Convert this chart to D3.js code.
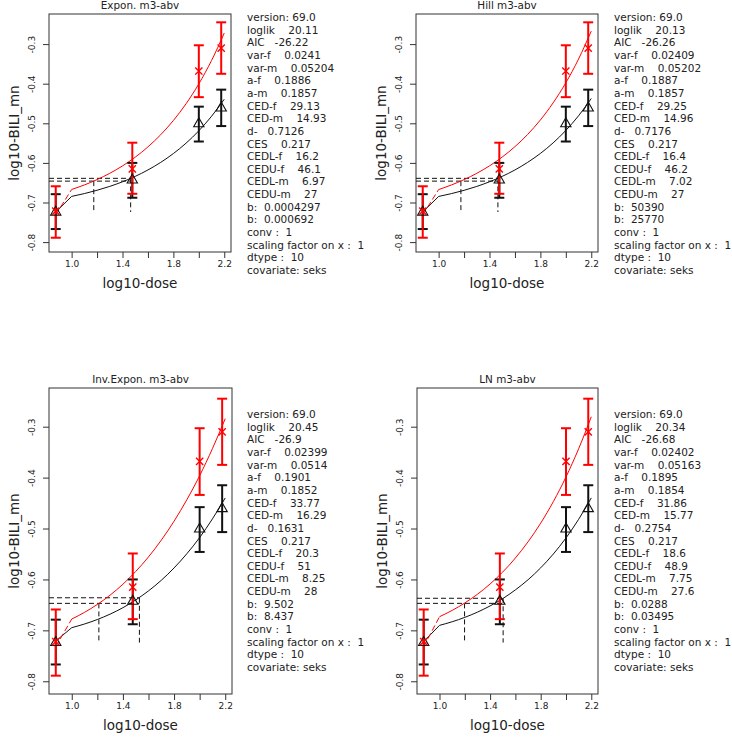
<!DOCTYPE html>
<html><head><meta charset="utf-8">
<script src="https://cdn.jsdelivr.net/npm/d3@7"></script>
<style>
body{margin:0;background:#fff}
svg{display:block}
text{font-family:"DejaVu Sans",sans-serif;fill:#222}
</style>
</head><body>
<svg id="c" width="732" height="737"></svg>
<script>
// ---------- data ----------
const doseLog = [0.875, 1.477, 2.0, 2.176];
const meanF = [-0.723, -0.642, -0.500, -0.460];
const loF   = [-0.767, -0.688, -0.546, -0.507];
const hiF   = [-0.679, -0.600, -0.458, -0.415];
const meanM = [-0.722, -0.615, -0.368, -0.310];
const loM   = [-0.789, -0.678, -0.434, -0.375];
const hiM   = [-0.659, -0.549, -0.303, -0.245];

const curveX = [0.875, 1.0, 1.1, 1.2, 1.3, 1.4, 1.5, 1.6, 1.7, 1.8, 1.9, 2.0, 2.1, 2.2];
const exponF = [-0.724, -0.6846, -0.6775, -0.6691, -0.6593, -0.6477, -0.6340, -0.6178, -0.5988, -0.5764, -0.5501, -0.5190, -0.4823, -0.4392];
const exponM = [-0.731, -0.6671, -0.6557, -0.6422, -0.6263, -0.6076, -0.5856, -0.5596, -0.5290, -0.4930, -0.4505, -0.4005, -0.3415, -0.2721];
const hillF  = [-0.724, -0.6847, -0.6776, -0.6693, -0.6594, -0.6477, -0.6340, -0.6178, -0.5986, -0.5761, -0.5495, -0.5181, -0.4811, -0.4374];
const hillM  = [-0.731, -0.6673, -0.6558, -0.6423, -0.6263, -0.6075, -0.5852, -0.5590, -0.5281, -0.4916, -0.4485, -0.3977, -0.3378, -0.2672];
const invF   = [-0.721, -0.6947, -0.6875, -0.6787, -0.6681, -0.6555, -0.6403, -0.6225, -0.6017, -0.5774, -0.5495, -0.5177, -0.4811, -0.4400];
const invM   = [-0.732, -0.6777, -0.6646, -0.6491, -0.6308, -0.6094, -0.5844, -0.5558, -0.5229, -0.4856, -0.4434, -0.3962, -0.3431, -0.2843];
const lnF    = [-0.722, -0.6902, -0.6831, -0.6745, -0.6642, -0.6520, -0.6376, -0.6205, -0.6006, -0.5772, -0.5500, -0.5185, -0.4819, -0.4398];
const lnM    = [-0.732, -0.6732, -0.6608, -0.6462, -0.6291, -0.6089, -0.5854, -0.5579, -0.5261, -0.4894, -0.4471, -0.3987, -0.3433, -0.2805];

// CED reference lines: [level f, level m, log10 CED-f, log10 CED-m, floor]
const cedExpon = [-0.639, -0.646, 1.464, 1.174, -0.724];
const cedHill  = [-0.639, -0.646, 1.466, 1.175, -0.724];
const cedInv   = [-0.636, -0.647, 1.529, 1.212, -0.724];
const cedLN    = [-0.637, -0.647, 1.503, 1.198, -0.724];

const xTicks = [1.0, 1.2, 1.4, 1.6, 1.8, 2.0, 2.2];
const xTickLabels = ["1.0", "", "1.4", "", "1.8", "", "2.2"];
const yTicks = [-0.8, -0.7, -0.6, -0.5, -0.4, -0.3];
const yTickLabels = ["-0.8", "-0.7", "-0.6", "-0.5", "-0.4", "-0.3"];
const xDomain = [0.822, 2.253];
const yDomain = [-0.825, -0.224];

const titles = ["Expon. m3-abv", "Hill m3-abv", "Inv.Expon. m3-abv", "LN m3-abv"];
const xLabel = "log10-dose";
const yLabel = "log10-BILI_mn";

const infoExpon = ["version: 69.0","loglik    20.11","AIC   -26.22","var-f    0.0241","var-m    0.05204","a-f    0.1886","a-m    0.1857","CED-f    29.13","CED-m    14.93","d-   0.7126","CES    0.217","CEDL-f    16.2","CEDU-f    46.1","CEDL-m    6.97","CEDU-m    27","b:  0.0004297","b:  0.000692","conv :  1","scaling factor on x :  1","dtype :  10","covariate: seks"];
const infoHill  = ["version: 69.0","loglik    20.13","AIC   -26.26","var-f    0.02409","var-m    0.05202","a-f    0.1887","a-m    0.1857","CED-f    29.25","CED-m    14.96","d-   0.7176","CES    0.217","CEDL-f    16.4","CEDU-f    46.2","CEDL-m    7.02","CEDU-m    27","b:  50390","b:  25770","conv :  1","scaling factor on x :  1","dtype :  10","covariate: seks"];
const infoInv   = ["version: 69.0","loglik    20.45","AIC   -26.9","var-f    0.02399","var-m    0.0514","a-f    0.1901","a-m    0.1852","CED-f    33.77","CED-m    16.29","d-   0.1631","CES    0.217","CEDL-f    20.3","CEDU-f    51","CEDL-m    8.25","CEDU-m    28","b:  9.502","b:  8.437","conv :  1","scaling factor on x :  1","dtype :  10","covariate: seks"];
const infoLN    = ["version: 69.0","loglik    20.34","AIC   -26.68","var-f    0.02402","var-m    0.05163","a-f    0.1895","a-m    0.1854","CED-f    31.86","CED-m    15.77","d-   0.2754","CES    0.217","CEDL-f    18.6","CEDU-f    48.9","CEDL-m    7.75","CEDU-m    27.6","b:  0.0288","b:  0.03495","conv :  1","scaling factor on x :  1","dtype :  10","covariate: seks"];

// ---------- layout ----------
const panels = [
  {title: titles[0], info: infoExpon, cf: exponF, cm: exponM, ced: cedExpon, L: 49,  R: 231, T: 14,  B: 252, tx: 247, ty: 21},
  {title: titles[1], info: infoHill,  cf: hillF,  cm: hillM,  ced: cedHill,  L: 416, R: 598, T: 14,  B: 252, tx: 614, ty: 21},
  {title: titles[2], info: infoInv,   cf: invF,   cm: invM,   ced: cedInv,   L: 49,  R: 232, T: 388, B: 694, tx: 247, ty: 418},
  {title: titles[3], info: infoLN,    cf: lnF,    cm: lnM,    ced: cedLN,    L: 417, R: 598, T: 388, B: 694, tx: 614, ty: 418}
];

const svg = d3.select("#c");
const RED = "#ff0000";

panels.forEach(p => {
  const g = svg.append("g");
  const x = d3.scaleLinear().domain(xDomain).range([p.L, p.R]);
  const y = d3.scaleLinear().domain(yDomain).range([p.B, p.T]);

  // title
  g.append("text").attr("x", (p.L + p.R) / 2).attr("y", p.T - 5)
    .attr("text-anchor", "middle").style("font-size", "10.4px").text(p.title);

  // axes
  const xa = g.append("g").attr("transform", `translate(0,${p.B})`)
    .call(d3.axisBottom(x).tickValues(xTicks).tickSize(6).tickPadding(3)
      .tickFormat((d, i) => xTickLabels[i]));
  const ya = g.append("g").attr("transform", `translate(${p.L},0)`)
    .call(d3.axisLeft(y).tickValues(yTicks).tickSize(6)
      .tickFormat((d, i) => yTickLabels[i]));
  [xa, ya].forEach(a => {
    a.select(".domain").remove();
    a.selectAll("line").attr("stroke", "#333");
    a.selectAll("text").style("font-size", "9px").style("font-family", '"DejaVu Sans",sans-serif').attr("fill", "#333");
  });
  ya.selectAll("text").attr("x", null).attr("dy", null).attr("y", null)
    .attr("text-anchor", "middle").attr("transform", "translate(-14,0) rotate(-90)");

  // box
  g.append("rect").attr("x", p.L).attr("y", p.T).attr("width", p.R - p.L).attr("height", p.B - p.T)
    .attr("fill", "none").attr("stroke", "#333").attr("stroke-width", 1);

  // axis labels
  g.append("text").attr("x", (p.L + p.R) / 2).attr("y", p.B + 36)
    .attr("text-anchor", "middle").style("font-size", "13.5px").text(xLabel);
  g.append("text").attr("transform", `translate(${p.L - 30},${(p.T + p.B) / 2}) rotate(-90)`)
    .attr("text-anchor", "middle").style("font-size", "13.5px").text(yLabel);

  // CED dashed lines
  const [lvF, lvM, cF, cM, floor] = p.ced;
  const cMax = Math.max(cF, cM);
  const dash = "5,3";
  const segs = [
    [xDomain[0], lvF, cMax, lvF],
    [xDomain[0], lvM, cMax, lvM],
    [cF, lvF, cF, floor],
    [cM, lvM, cM, floor]
  ];
  segs.forEach(s => g.append("line")
    .attr("x1", x(s[0])).attr("y1", y(s[1])).attr("x2", x(s[2])).attr("y2", y(s[3]))
    .attr("stroke", "#111").attr("stroke-width", 1).attr("stroke-dasharray", dash));

  // curves
  const line = d3.line().x(d => x(d[0])).y(d => y(d[1])).curve(d3.curveMonotoneX);
  const drawCurve = (vals, col, dashFirst) => {
    const pts = curveX.map((cx, i) => [cx, vals[i]]);
    g.append("path").attr("d", d3.line().x(d => x(d[0])).y(d => y(d[1]))(pts.slice(0, 2)))
      .attr("fill", "none").attr("stroke", col).attr("stroke-width", 1)
      .attr("stroke-dasharray", dashFirst ? "6,3" : null);
    g.append("path").attr("d", line(pts.slice(1)))
      .attr("fill", "none").attr("stroke", col).attr("stroke-width", 1);
  };
  drawCurve(p.cf, "#111", false);
  drawCurve(p.cm, RED, true);

  // error bars + markers
  const cap = 5;
  const bars = (mean, lo, hi, col) => {
    doseLog.forEach((dx, i) => {
      const cx = x(dx);
      g.append("line").attr("x1", cx).attr("x2", cx).attr("y1", y(lo[i])).attr("y2", y(hi[i]))
        .attr("stroke", col).attr("stroke-width", 2);
      [lo[i], hi[i]].forEach(v => g.append("line").attr("x1", cx - cap).attr("x2", cx + cap)
        .attr("y1", y(v)).attr("y2", y(v)).attr("stroke", col).attr("stroke-width", 2));
    });
  };
  bars(meanF, loF, hiF, "#111");
  bars(meanM, loM, hiM, RED);

  doseLog.forEach((dx, i) => {
    const cx = x(dx), cy = y(meanF[i]);
    g.append("path").attr("d", d3.symbol(d3.symbolTriangle, 46)())
      .attr("transform", `translate(${cx},${cy + 0.5})`)
      .attr("fill", "none").attr("stroke", "#111").attr("stroke-width", 1.1);
  });
  doseLog.forEach((dx, i) => {
    const cx = x(dx), cy = y(meanM[i]);
    const s = 3.6;
    g.append("path").attr("d", `M${cx - s},${cy - s}L${cx + s},${cy + s}M${cx - s},${cy + s}L${cx + s},${cy - s}`)
      .attr("stroke", RED).attr("stroke-width", 1.4).attr("fill", "none");
  });

  // info block
  const tb = svg.append("text").style("font-size", "10.5px").attr("xml:space", "preserve")
    .style("white-space", "pre");
  p.info.forEach((ln, i) => {
    tb.append("tspan").attr("x", p.tx).attr("y", p.ty + i * 12.65).text(ln);
  });
});
</script>
</body></html>
